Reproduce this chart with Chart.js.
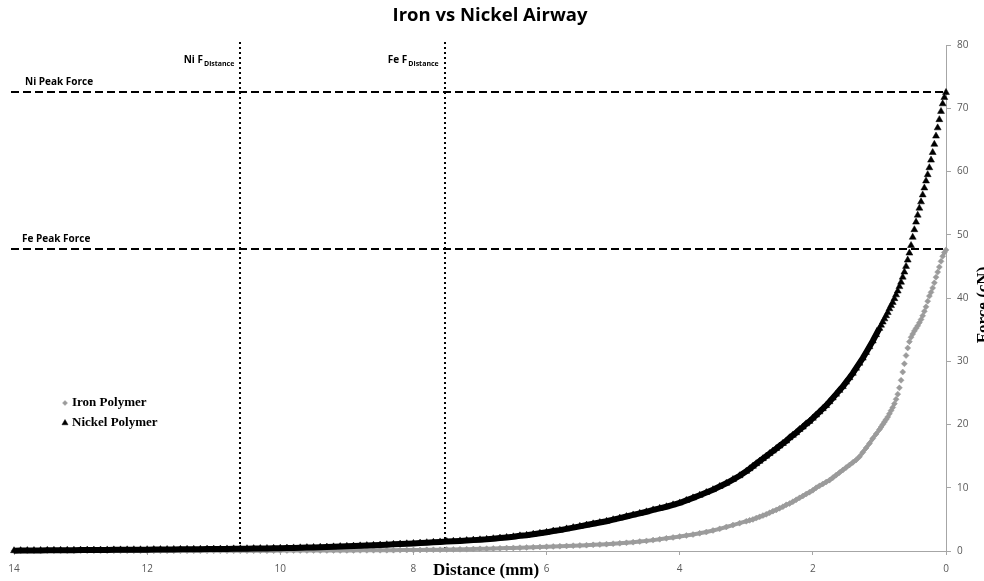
<!DOCTYPE html>
<html>
<head>
<meta charset="utf-8">
<title>Iron vs Nickel Airway</title>
<script src="https://cdn.jsdelivr.net/npm/chart.js@4.4.1/dist/chart.umd.min.js"></script>
<style>
  html, body { margin: 0; padding: 0; background: #fff; }
  canvas { display: block; }
</style>
</head>
<body>
<canvas id="forceChart" width="984" height="581"></canvas>
<script>
// distance from the magnet (mm), shared by both series
const distance = [
  0, 0.025, 0.05, 0.075, 0.1, 0.125, 0.15, 0.175, 0.2, 0.225,
  0.25, 0.275, 0.3, 0.325, 0.35, 0.375, 0.4, 0.425, 0.45, 0.475,
  0.5, 0.525, 0.55, 0.575, 0.6, 0.625, 0.65, 0.675, 0.7, 0.725,
  0.75, 0.775, 0.8, 0.825, 0.85, 0.875, 0.9, 0.925, 0.95, 0.975,
  1.0,
  1.05, 1.1, 1.15, 1.2, 1.25, 1.3, 1.35, 1.4, 1.45, 1.5,
  1.55, 1.6, 1.65, 1.7, 1.75, 1.8, 1.85, 1.9, 1.95, 2.0,
  2.05, 2.1, 2.15, 2.2, 2.25, 2.3, 2.35, 2.4, 2.45, 2.5,
  2.55, 2.6, 2.65, 2.7, 2.75, 2.8, 2.85, 2.9, 2.95, 3.0,
  3.1, 3.2, 3.3, 3.4, 3.5, 3.6, 3.7, 3.8, 3.9, 4.0,
  4.1, 4.2, 4.3, 4.4, 4.5, 4.6, 4.7, 4.8, 4.9, 5.0,
  5.1, 5.2, 5.3, 5.4, 5.5, 5.6, 5.7, 5.8, 5.9, 6.0,
  6.1, 6.2, 6.3, 6.4, 6.5, 6.6, 6.7, 6.8, 6.9, 7.0,
  7.1, 7.2, 7.3, 7.4, 7.5, 7.6, 7.7, 7.8, 7.9, 8.0,
  8.1, 8.2, 8.3, 8.4, 8.5, 8.6, 8.7, 8.8, 8.9, 9.0,
  9.1, 9.2, 9.3, 9.4, 9.5, 9.6, 9.7, 9.8, 9.9, 10.0,
  10.1, 10.2, 10.3, 10.4, 10.5, 10.6, 10.7, 10.8, 10.9, 11.0,
  11.1, 11.2, 11.3, 11.4, 11.5, 11.6, 11.7, 11.8, 11.9, 12.0,
  12.1, 12.2, 12.3, 12.4, 12.5, 12.6, 12.7, 12.8, 12.9, 13.0,
  13.1, 13.2, 13.3, 13.4, 13.5, 13.6, 13.7, 13.8, 13.9, 14.0
];

// force (cN)
const ironForce = [
  47.6, 47.2, 46.6, 45.8, 44.9, 44.1, 43.3, 42.4, 41.6, 40.9,
  40.3, 39.5, 38.6, 37.9, 37.2, 36.6, 36.1, 35.6, 35.2, 34.8,
  34.3, 33.8, 33.1, 32.1, 30.9, 29.6, 28.3, 27.0, 25.8, 24.8,
  24.0, 23.3, 22.7, 22.2, 21.7, 21.2, 20.8, 20.4, 20.0, 19.6,
  19.2,
  18.5, 17.8, 17.0, 16.3, 15.6, 14.9, 14.4, 14.0, 13.6, 13.2,
  12.8, 12.4, 12.0, 11.6, 11.2, 10.9, 10.6, 10.3, 10.0, 9.6,
  9.3, 9.0, 8.7, 8.4, 8.1, 7.8, 7.5, 7.3, 7.0, 6.75,
  6.5, 6.3, 6.05, 5.8, 5.6, 5.4, 5.2, 5.0, 4.85, 4.7,
  4.4, 4.1, 3.8, 3.5, 3.25, 3.0, 2.8, 2.6, 2.45, 2.3,
  2.15, 2.0, 1.85, 1.72, 1.6, 1.5, 1.4, 1.3, 1.22, 1.15,
  1.08, 1.02, 0.97, 0.92, 0.88, 0.84, 0.8, 0.76, 0.72, 0.68,
  0.64, 0.6, 0.56, 0.52, 0.49, 0.46, 0.43, 0.4, 0.37, 0.34,
  0.31, 0.28, 0.26, 0.24, 0.22, 0.2, 0.19, 0.18, 0.17, 0.16,
  0.15, 0.14, 0.13, 0.12, 0.12, 0.11, 0.1, 0.1, 0.09, 0.09,
  0.08, 0.08, 0.08, 0.07, 0.07, 0.07, 0.06, 0.06, 0.06, 0.06,
  0.05, 0.05, 0.05, 0.05, 0.05, 0.04, 0.04, 0.04, 0.04, 0.04,
  0.04, 0.04, 0.04, 0.04, 0.04, 0.03, 0.03, 0.03, 0.03, 0.03,
  0.03, 0.03, 0.03, 0.03, 0.03, 0.02, 0.02, 0.02, 0.02, 0.02,
  0.02, 0.02, 0.02, 0.02, 0.02, 0.02, 0.02, 0.02, 0.02, 0.02
];

const nickelForce = [
  72.5, 71.7, 70.7, 69.5, 68.2, 66.9, 65.6, 64.3, 63.0, 61.8,
  60.6, 59.5, 58.5, 57.4, 56.3, 55.2, 54.2, 53.1, 52.0, 50.8,
  49.6, 48.3, 47.1, 46.0, 45.0, 44.1, 43.3, 42.5, 41.8, 41.1,
  40.5, 39.9, 39.3, 38.8, 38.3, 37.7, 37.2, 36.7, 36.2, 35.7,
  35.2,
  34.2, 33.2, 32.3, 31.4, 30.5, 29.7, 28.9, 28.1, 27.4, 26.7,
  26.0, 25.4, 24.8, 24.2, 23.6, 23.0, 22.5, 22.0, 21.5, 21.0,
  20.5, 20.1, 19.6, 19.2, 18.7, 18.3, 17.9, 17.4, 17.0, 16.6,
  16.2, 15.8, 15.4, 15.0, 14.6, 14.2, 13.8, 13.4, 13.0, 12.6,
  11.9, 11.3, 10.7, 10.2, 9.7, 9.25, 8.8, 8.4, 8.0, 7.6,
  7.3, 7.0, 6.75, 6.5, 6.2, 5.95, 5.7, 5.45, 5.2, 4.95,
  4.7, 4.5, 4.3, 4.1, 3.9, 3.7, 3.5, 3.3, 3.15, 2.95,
  2.8, 2.65, 2.5, 2.4, 2.25, 2.15, 2.05, 1.95, 1.85, 1.78,
  1.72, 1.66, 1.6, 1.55, 1.5, 1.44, 1.38, 1.32, 1.26, 1.2,
  1.15, 1.1, 1.05, 1.0, 0.95, 0.9, 0.86, 0.82, 0.78, 0.74,
  0.7, 0.66, 0.63, 0.6, 0.57, 0.54, 0.51, 0.49, 0.47, 0.45,
  0.43, 0.41, 0.4, 0.38, 0.37, 0.35, 0.34, 0.33, 0.32, 0.31,
  0.3, 0.29, 0.28, 0.27, 0.26, 0.25, 0.24, 0.23, 0.22, 0.21,
  0.2, 0.2, 0.19, 0.18, 0.18, 0.17, 0.16, 0.15, 0.15, 0.14,
  0.13, 0.12, 0.12, 0.11, 0.1, 0.09, 0.08, 0.07, 0.06, 0.05
];

const seriesNames = ['Iron Polymer', 'Nickel Polymer'];

// reference lines
const peakForces = [72.5, 47.8];
const peakLabels = ['Ni Peak Force', 'Fe Peak Force'];
const fDistances = [10.6, 7.53];
const fDistanceLabels = ['Ni F', 'Fe F'];

const xTickValues = [14, 12, 10, 8, 6, 4, 2, 0];
const yTickValues = [0, 10, 20, 30, 40, 50, 60, 70, 80];

document.addEventListener('DOMContentLoaded', function() {
    const toPoints = force => distance.map((d, i) => ({ x: d, y: force[i] }));

    // markers are packed so tightly in the flat part that they merge into a band
    const bandFrom = (from, color) => c =>
        c.p0.parsed.x >= from ? color : 'rgba(0,0,0,0)';

    const sans = '"Open Sans", sans-serif';
    const serif = '"Liberation Serif", "Times New Roman", serif';

    // dashed / dotted guide lines and all free text
    const overlay = {
        id: 'overlay',
        beforeDatasetsDraw(chart) {
            const { ctx, chartArea: area, scales } = chart;
            ctx.save();
            ctx.strokeStyle = '#000';
            ctx.lineWidth = 2;
            ctx.setLineDash([8, 4]);
            peakForces.forEach(f => {
                const py = Math.round(scales.y.getPixelForValue(f));
                ctx.beginPath();
                ctx.moveTo(area.left - 3, py);
                ctx.lineTo(area.right, py);
                ctx.stroke();
            });
            ctx.setLineDash([2, 3]);
            fDistances.forEach(d => {
                const px = Math.round(scales.x.getPixelForValue(d));
                ctx.beginPath();
                ctx.moveTo(px, area.top - 3);
                ctx.lineTo(px, area.bottom);
                ctx.stroke();
            });
            ctx.restore();
        },
        afterDraw(chart) {
            const { ctx, scales } = chart;
            ctx.save();
            ctx.fillStyle = '#000';
            ctx.textBaseline = 'middle';

            // title
            ctx.textAlign = 'center';
            ctx.font = 'bold 18.5px ' + sans;
            ctx.fillText('Iron vs Nickel Airway', 490, 16);

            // peak force labels
            ctx.textAlign = 'left';
            ctx.font = 'bold 10px ' + sans;
            const peakX = [25, 22];
            peakForces.forEach((f, i) => {
                const py = scales.y.getPixelForValue(f);
                ctx.fillText(peakLabels[i], peakX[i], py - 10);
            });

            // F_Distance labels, right aligned against their line
            fDistances.forEach((d, i) => {
                const px = scales.x.getPixelForValue(d);
                ctx.font = 'bold 7px ' + sans;
                const subW = ctx.measureText('Distance').width;
                const subX = px - 6 - subW;
                ctx.fillText('Distance', subX, 64);
                ctx.font = 'bold 10px ' + sans;
                ctx.textAlign = 'right';
                ctx.fillText(fDistanceLabels[i], subX - 1, 60);
                ctx.textAlign = 'left';
            });

            // legend
            ctx.font = 'bold 13px ' + serif;
            chart.data.datasets.forEach((ds, i) => {
                const ly = 403 + i * 20;
                ctx.fillStyle = ds.backgroundColor;
                ctx.strokeStyle = ds.backgroundColor;
                Chart.helpers.drawPoint(ctx, {
                    pointStyle: ds.pointStyle,
                    radius: ds.legendRadius,
                    rotation: 0,
                    borderWidth: 1
                }, 65, ly);
                ctx.fillStyle = '#000';
                ctx.fillText(ds.label, 72, ly);
            });

            // axis titles
            ctx.font = 'bold 17px ' + serif;
            ctx.textAlign = 'center';
            ctx.fillText('Distance (mm)', 486, 571);
            ctx.translate(988, 305);
            ctx.rotate(-Math.PI / 2);
            ctx.textBaseline = 'alphabetic';
            ctx.fillText('Force (cN)', 0, 0);
            ctx.restore();
        }
    };

    const ctx = document.getElementById('forceChart').getContext('2d');
    new Chart(ctx, {
        type: 'scatter',
        data: {
            datasets: [{
                label: seriesNames[0],
                data: toPoints(ironForce),
                showLine: true,
                borderWidth: 4,
                segment: { borderColor: bandFrom(0.9, '#9e9e9e') },
                pointStyle: 'rectRot',
                pointRadius: 3,
                legendRadius: 2.5,
                pointBorderWidth: 0.5,
                pointBackgroundColor: '#9b9b9b',
                pointBorderColor: '#9b9b9b',
                backgroundColor: '#9b9b9b',
                borderColor: '#9e9e9e',
                order: 2,
                clip: false
            }, {
                label: seriesNames[1],
                data: toPoints(nickelForce),
                showLine: true,
                borderWidth: 6,
                segment: { borderColor: bandFrom(1.0, '#000') },
                pointStyle: 'triangle',
                pointRadius: 4,
                legendRadius: 3.5,
                pointBorderWidth: 0.5,
                pointBackgroundColor: '#000',
                pointBorderColor: '#000',
                backgroundColor: '#000',
                borderColor: '#000',
                order: 1,
                clip: false
            }]
        },
        options: {
            responsive: false,
            animation: false,
            devicePixelRatio: 1,
            layout: {
                padding: { left: 14, top: 45, right: 0, bottom: 0 }
            },
            plugins: {
                legend: { display: false },
                title: { display: false },
                tooltip: { enabled: false }
            },
            scales: {
                x: {
                    type: 'linear',
                    reverse: true,
                    min: 0,
                    max: 14,
                    afterFit: scale => { scale.height = 30; },
                    afterBuildTicks: scale => {
                        scale.ticks = xTickValues.map(v => ({ value: v }));
                    },
                    grid: {
                        drawOnChartArea: false,
                        tickLength: 4,
                        color: '#a6a6a6'
                    },
                    border: { color: '#a6a6a6' },
                    ticks: {
                        padding: 8,
                        maxRotation: 0,
                        autoSkip: false,
                        color: '#595959',
                        font: { family: sans, size: 10 }
                    }
                },
                y: {
                    type: 'linear',
                    position: 'right',
                    min: 0,
                    max: 80,
                    afterFit: scale => { scale.width = 38; },
                    afterBuildTicks: scale => {
                        scale.ticks = yTickValues.map(v => ({ value: v }));
                    },
                    grid: {
                        drawOnChartArea: false,
                        tickLength: 5,
                        color: '#a6a6a6'
                    },
                    border: { color: '#a6a6a6' },
                    ticks: {
                        padding: 6,
                        color: '#595959',
                        font: { family: sans, size: 10 }
                    }
                }
            }
        },
        plugins: [overlay]
    });
});
</script>
</body>
</html>
